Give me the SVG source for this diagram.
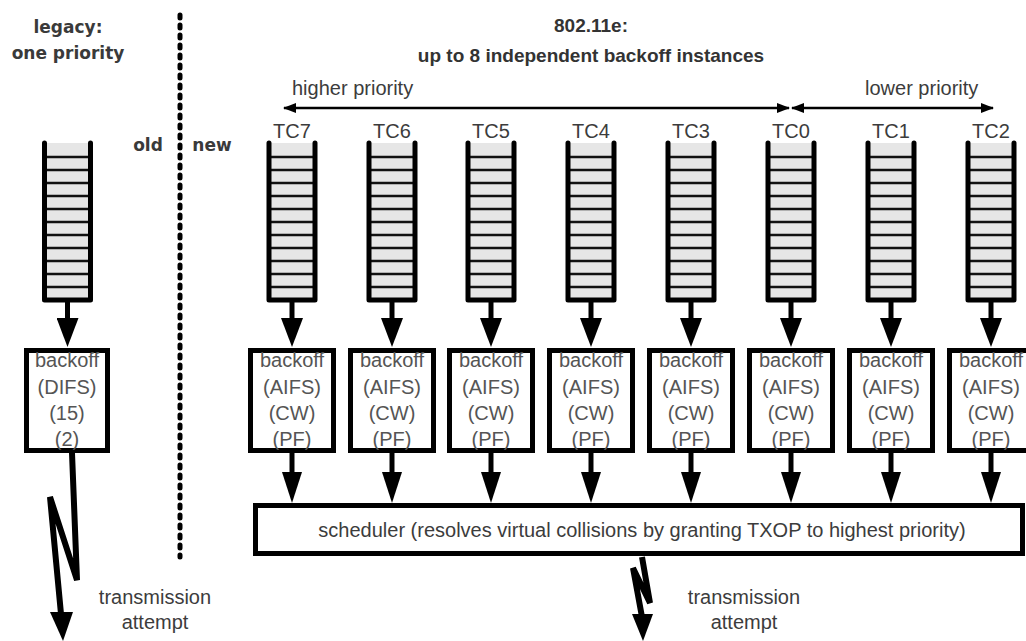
<svg xmlns="http://www.w3.org/2000/svg" width="1026" height="641" viewBox="0 0 1026 641">
<style>
.t{font-family:"Liberation Sans",Arial,sans-serif;font-size:20px;fill:#3c3c3c;text-anchor:middle}
.b{font-family:"Liberation Sans",Arial,sans-serif;font-size:19px;font-weight:bold;fill:#333;text-anchor:middle}
.d{font-family:"DejaVu Sans",sans-serif;font-size:17px;font-weight:bold;fill:#3a3a3a;text-anchor:middle}
.bx{fill:#fff;stroke:#000;stroke-width:5}
.bt{font-family:"Liberation Sans",Arial,sans-serif;font-size:20px;fill:#555;text-anchor:middle}
.stem{stroke:#000;stroke-width:5;fill:none}
.bolt{stroke:#000;stroke-width:6;fill:none;stroke-linejoin:miter}
.thin{stroke:#000;stroke-width:2.5;fill:none}
</style>
<defs>
<g id="q">
<rect x="-23" y="0" width="46" height="157" fill="#e6e6e6"/>
<path d="M-23 14H23M-23 27H23M-23 40H23M-23 53H23M-23 66H23M-23 79H23M-23 92H23M-23 105H23M-23 118H23M-23 131H23M-23 144H23" stroke="#111" stroke-width="2.5"/>
<path d="M-23 0V157H23V0" stroke="#000" stroke-width="5" fill="none" stroke-linejoin="round" stroke-linecap="round"/>
</g>
<marker id="ah" markerUnits="userSpaceOnUse" viewBox="0 0 29 22" markerWidth="29" markerHeight="22" refX="9" refY="11" orient="auto"><path d="M0 0L29 11L0 22z" fill="#000"/></marker>
<marker id="ah2" markerUnits="userSpaceOnUse" viewBox="0 0 31 20" markerWidth="31" markerHeight="20" refX="9" refY="10" orient="auto"><path d="M0 0L31 10L0 20z" fill="#000"/></marker>
<marker id="sa" markerUnits="userSpaceOnUse" viewBox="0 0 13 10" markerWidth="13" markerHeight="10" refX="12" refY="5" orient="auto-start-reverse"><path d="M0 0L13 5L0 10z" fill="#000"/></marker>
</defs>

<g id="titles">
<text class="d" x="68" y="33">legacy:</text>
<text class="d" x="68" y="59">one priority</text>
<text class="d" x="148" y="151">old</text>
<text class="d" x="212" y="151">new</text>
<text class="b" x="591" y="32">802.11e:</text>
<text class="b" x="591" y="62">up to 8 independent backoff instances</text>
<text class="t" x="292" y="95" style="text-anchor:start">higher priority</text>
<text class="t" x="865" y="95" style="text-anchor:start">lower priority</text>
</g>

<line id="divider" x1="180" y1="15" x2="180" y2="557" stroke="#000" stroke-width="5" stroke-dasharray="3 7" stroke-linecap="round"/>

<g id="legacy-queue"><use href="#q" x="67.5" y="143"/></g>
<g id="legacy-backoff">
<rect class="bx" x="26.5" y="350.5" width="81" height="100"/>
<text class="bt" x="67" y="367">backoff</text><text class="bt" x="67" y="394">(DIFS)</text><text class="bt" x="67" y="420">(15)</text><text class="bt" x="67" y="446">(2)</text>
</g>

<g id="tc7"><text class="t" x="292" y="138">TC7</text><use href="#q" x="292" y="143"/></g>
<g id="tc6"><text class="t" x="392" y="138">TC6</text><use href="#q" x="392" y="143"/></g>
<g id="tc5"><text class="t" x="491" y="138">TC5</text><use href="#q" x="491" y="143"/></g>
<g id="tc4"><text class="t" x="591" y="138">TC4</text><use href="#q" x="591" y="143"/></g>
<g id="tc3"><text class="t" x="691" y="138">TC3</text><use href="#q" x="691" y="143"/></g>
<g id="tc0"><text class="t" x="791" y="138">TC0</text><use href="#q" x="791" y="143"/></g>
<g id="tc1"><text class="t" x="891" y="138">TC1</text><use href="#q" x="891" y="143"/></g>
<g id="tc2"><text class="t" x="991" y="138">TC2</text><use href="#q" x="991" y="143"/></g>

<g id="backoff-tc7"><rect class="bx" x="250.5" y="350.5" width="83" height="100"/><text class="bt" x="292" y="367">backoff</text><text class="bt" x="292" y="394">(AIFS)</text><text class="bt" x="292" y="420">(CW)</text><text class="bt" x="292" y="446">(PF)</text></g>
<g id="backoff-tc6"><rect class="bx" x="350.5" y="350.5" width="83" height="100"/><text class="bt" x="392" y="367">backoff</text><text class="bt" x="392" y="394">(AIFS)</text><text class="bt" x="392" y="420">(CW)</text><text class="bt" x="392" y="446">(PF)</text></g>
<g id="backoff-tc5"><rect class="bx" x="449.5" y="350.5" width="83" height="100"/><text class="bt" x="491" y="367">backoff</text><text class="bt" x="491" y="394">(AIFS)</text><text class="bt" x="491" y="420">(CW)</text><text class="bt" x="491" y="446">(PF)</text></g>
<g id="backoff-tc4"><rect class="bx" x="549.5" y="350.5" width="83" height="100"/><text class="bt" x="591" y="367">backoff</text><text class="bt" x="591" y="394">(AIFS)</text><text class="bt" x="591" y="420">(CW)</text><text class="bt" x="591" y="446">(PF)</text></g>
<g id="backoff-tc3"><rect class="bx" x="649.5" y="350.5" width="83" height="100"/><text class="bt" x="691" y="367">backoff</text><text class="bt" x="691" y="394">(AIFS)</text><text class="bt" x="691" y="420">(CW)</text><text class="bt" x="691" y="446">(PF)</text></g>
<g id="backoff-tc0"><rect class="bx" x="749.5" y="350.5" width="83" height="100"/><text class="bt" x="791" y="367">backoff</text><text class="bt" x="791" y="394">(AIFS)</text><text class="bt" x="791" y="420">(CW)</text><text class="bt" x="791" y="446">(PF)</text></g>
<g id="backoff-tc1"><rect class="bx" x="849.5" y="350.5" width="83" height="100"/><text class="bt" x="891" y="367">backoff</text><text class="bt" x="891" y="394">(AIFS)</text><text class="bt" x="891" y="420">(CW)</text><text class="bt" x="891" y="446">(PF)</text></g>
<g id="backoff-tc2"><rect class="bx" x="949.5" y="350.5" width="83" height="100"/><text class="bt" x="991" y="367">backoff</text><text class="bt" x="991" y="394">(AIFS)</text><text class="bt" x="991" y="420">(CW)</text><text class="bt" x="991" y="446">(PF)</text></g>

<g id="scheduler">
<rect class="bx" x="255.5" y="505.5" width="767" height="48"/>
<text class="t" x="642" y="537">scheduler (resolves virtual collisions by granting TXOP to highest priority)</text>
</g>

<g id="connectors">
<line class="thin" x1="284" y1="108" x2="789" y2="108" marker-start="url(#sa)" marker-end="url(#sa)"/>
<line class="thin" x1="792" y1="108" x2="993" y2="108" marker-start="url(#sa)" marker-end="url(#sa)"/>
<g class="stem" marker-end="url(#ah)">
<line x1="67.5" y1="300" x2="67.5" y2="327"/>
<line x1="292" y1="300" x2="292" y2="327"/>
<line x1="392" y1="300" x2="392" y2="327"/>
<line x1="491" y1="300" x2="491" y2="327"/>
<line x1="591" y1="300" x2="591" y2="327"/>
<line x1="691" y1="300" x2="691" y2="327"/>
<line x1="791" y1="300" x2="791" y2="327"/>
<line x1="891" y1="300" x2="891" y2="327"/>
<line x1="991" y1="300" x2="991" y2="327"/>
</g>
<g class="stem" marker-end="url(#ah2)">
<line x1="292" y1="453" x2="292" y2="481"/>
<line x1="392" y1="453" x2="392" y2="481"/>
<line x1="491" y1="453" x2="491" y2="481"/>
<line x1="591" y1="453" x2="591" y2="481"/>
<line x1="691" y1="453" x2="691" y2="481"/>
<line x1="791" y1="453" x2="791" y2="481"/>
<line x1="891" y1="453" x2="891" y2="481"/>
<line x1="991" y1="453" x2="991" y2="481"/>
</g>
<polyline class="bolt" points="72,453 77,580 50,497 61,614"/>
<polygon points="50,612 73,612 63,641" fill="#000"/>
<polyline class="bolt" stroke-width="7" points="642,557 650,603 633,568 642,617"/>
<polygon points="632,614 653,614 643,641" fill="#000"/>
</g>

<g id="tx-labels">
<text class="t" x="155" y="604">transmission</text>
<text class="t" x="155" y="629">attempt</text>
<text class="t" x="744" y="604">transmission</text>
<text class="t" x="744" y="629">attempt</text>
</g>
</svg>
